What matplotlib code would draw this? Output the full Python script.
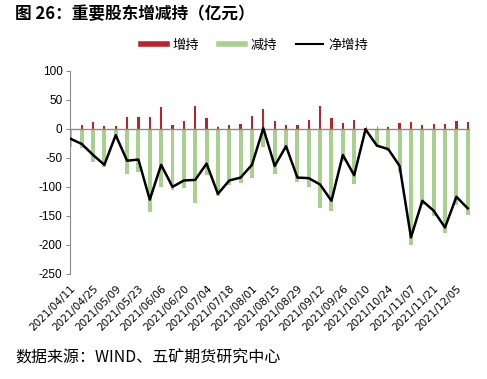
import numpy as np
import pandas as pd
import matplotlib

matplotlib.use("Agg")
import matplotlib.pyplot as plt
from matplotlib.lines import Line2D

plt.rcParams["font.family"] = ["Liberation Sans", "Noto Sans CJK SC", "DejaVu Sans"]
plt.rcParams["axes.unicode_minus"] = False

# 周度数据：2021/04/11 起
dates = pd.date_range("2021-04-11", periods=36, freq="7D")
increase = [15, 6, 11, 5, 4, 21, 21, 21, 38, 6, 13, 40, 19, 3, 7, 8, 22, 34,
            14, 6, 6, 15, 40, 18, 10, 15, 1, 0, 3, 10, 11, 7, 9, 9, 14, 11]
decrease = [-32, -33, -58, -66, -15, -77, -75, -144, -101, -105, -102, -127, -80, -115, -97, -93, -84, -32,
            -78, -36, -91, -100, -136, -142, -55, -95, -2, -28, -38, -74, -200, -132, -150, -179, -131, -148]
net = [-17, -26, -45, -62, -11, -55, -53, -122, -62, -100, -89, -88, -60, -112, -89, -84, -62, 1,
       -64, -30, -84, -85, -96, -124, -45, -80, -1, -29, -35, -64, -187, -124, -141, -170, -117, -137]
labels = [d.strftime("%Y/%m/%d") for d in dates]

red = "#C0202A"
green = "#A9D18E"
grey = "#8C8C8C"
cjk = ["Noto Sans CJK SC", "DejaVu Sans"]

x = np.arange(len(dates))

fig = plt.figure(figsize=(4.87, 3.79), dpi=100)
ax = fig.add_axes([69.5 / 487, 1 - 274 / 379, 400.5 / 487, (274 - 70.7) / 379])

ax.bar(x, increase, width=0.2, color=red, zorder=2)
ax.bar(x, decrease, width=0.35, color=green, zorder=2)
ax.axhline(0, color=grey, lw=1, zorder=3)
ax.plot(x, net, color="black", lw=1.8, zorder=4)

ax.set_xlim(-0.07, 35.2)
ax.set_ylim(-250, 100)
ax.set_yticks(range(-250, 101, 50))
ax.tick_params(axis="y", direction="out", length=3, color=grey, labelsize=8.5, pad=2)

ax.set_xticks(x[::2])
ax.set_xticklabels(labels[::2], rotation=45, ha="right", va="top",
                   rotation_mode="anchor", fontsize=7.5, family="DejaVu Sans")
ax.tick_params(axis="x", length=0, pad=7)

for side in ["top", "right", "bottom"]:
    ax.spines[side].set_visible(False)
ax.spines["left"].set_color(grey)

# 零轴上的刻度
sec = ax.secondary_xaxis(250 / 350)
sec.set_xticks(x)
sec.tick_params(axis="x", direction="out", length=2.5, color=grey, labelbottom=False, labeltop=False)
sec.spines["bottom"].set_visible(False)
sec.spines["top"].set_visible(False)

handles = [Line2D([0], [0], color=red, lw=4),
           Line2D([0], [0], color=green, lw=4),
           Line2D([0], [0], color="black", lw=1.5)]
fig.legend(handles, ["增持", "减持", "净增持"], loc="center", bbox_to_anchor=(0.522, 1 - 45 / 379),
           ncol=3, frameon=False, prop={"family": cjk, "size": 9.5},
           handlelength=2.0, columnspacing=1.5, handletextpad=0.4)

fig.text(15 / 487, 1 - 14 / 379, "图 26：重要股东增减持（亿元）", fontsize=12, fontweight="bold",
         family=cjk, ha="left", va="center")
fig.text(15 / 487, 1 - 358 / 379, "数据来源：WIND、五矿期货研究中心", fontsize=11.5,
         family=cjk, ha="left", va="center")

fig.savefig("out.png", dpi=100)
plt.close(fig)
